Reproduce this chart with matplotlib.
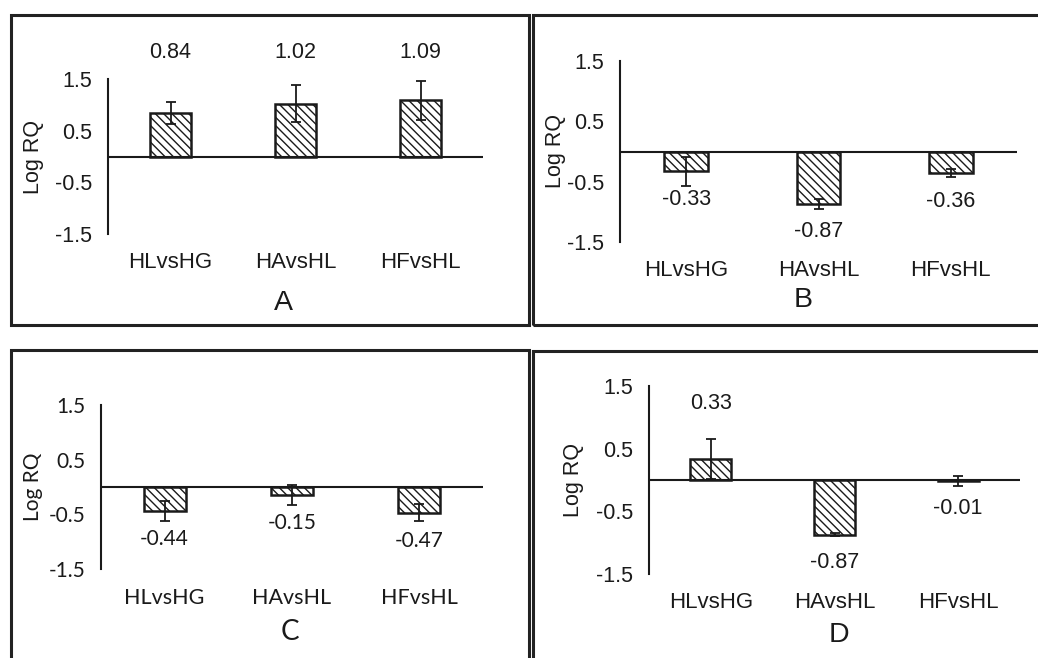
import matplotlib
matplotlib.use("Agg")
import matplotlib.pyplot as plt
from matplotlib.patches import Rectangle

plt.rcParams['hatch.linewidth'] = 1.0

# data
categories = ['HLvsHG', 'HAvsHL', 'HFvsHL']
vals_a = [0.84, 1.02, 1.09]
err_a = [0.21, 0.36, 0.38]
vals_b = [-0.33, -0.87, -0.36]
err_b = [0.24, 0.09, 0.07]
vals_c = [-0.44, -0.15, -0.47]
err_c = [0.18, 0.18, 0.15]
vals_d = [0.33, -0.87, -0.01]
err_d = [0.32, 0.02, 0.08]
yticks = [1.5, 0.5, -0.5, -1.5]
ytick_labels = ['1.5', '0.5', '-0.5', '-1.5']

W, H = 1038, 658
INK = '#1a1a1a'
fig = plt.figure(figsize=(W / 100, H / 100), dpi=100)


def px_axes(x0, x1, ytop, ybot):
    return fig.add_axes([x0 / W, 1 - ybot / H, (x1 - x0) / W, (ybot - ytop) / H])


def frame(x0, y0, x1, y1):
    fig.patches.append(Rectangle((x0 / W, 1 - y1 / H), (x1 - x0) / W, (y1 - y0) / H,
                                 transform=fig.transFigure, fill=False,
                                 edgecolor='#222222', linewidth=2.2))


def panel(box, vals, errs, letter, letter_xy, font, fs, ylab_dx, pos_label=None):
    ax = px_axes(*box)
    x = [0.5, 1.5, 2.5]
    ax.bar(x, vals, width=0.33, color='white', edgecolor=INK, linewidth=1.8,
           hatch='\\\\\\\\')
    ax.errorbar(x, vals, yerr=errs, fmt='none', ecolor=INK, elinewidth=1.3,
                capsize=3.5, capthick=1.3)
    ax.axhline(0, color=INK, linewidth=1.5)
    ax.set_xlim(0, 3)
    ax.set_ylim(-1.5, 1.5)
    for s in ['top', 'right', 'bottom']:
        ax.spines[s].set_visible(False)
    ax.spines['left'].set_linewidth(1.5)
    ax.spines['left'].set_color(INK)
    ax.set_xticks([])
    ax.set_yticks(yticks)
    ax.set_yticklabels(ytick_labels, fontsize=fs + 1, family=font, color=INK)
    ax.tick_params(axis='y', length=0, pad=11.5)
    ax.set_ylabel('Log RQ', fontsize=fs + 1, family=font, color=INK)
    ax.yaxis.label.set_verticalalignment('center')
    width_px = box[1] - box[0]
    ax.yaxis.set_label_coords(-ylab_dx / width_px, 0.5)

    for xi, v in zip(x, vals):
        if v < 0:
            ax.annotate(f'{v:.2f}', (xi, v), xytext=(0, -28), textcoords='offset pixels',
                        ha='center', va='center', fontsize=fs + 1, family=font, color=INK)
        elif pos_label == 'top':
            ax.annotate(f'{v:.2f}', (xi, 1.5), xytext=(0, 26), textcoords='offset pixels',
                        ha='center', va='center', fontsize=fs + 1, family=font, color=INK,
                        annotation_clip=False)
        else:
            ax.annotate(f'{v:.2f}', (xi, v), xytext=(0, 56), textcoords='offset pixels',
                        ha='center', va='center', fontsize=fs + 1, family=font, color=INK)

    for xi, c in zip(x, categories):
        ax.annotate(c, (xi, 0), xycoords=('data', 'axes fraction'), xytext=(0, -29),
                    textcoords='offset pixels', ha='center', va='center',
                    fontsize=fs + 1.5, family=font, color=INK, annotation_clip=False)

    fig.text(letter_xy[0] / W, 1 - letter_xy[1] / H, letter, ha='center', va='center',
             fontsize=fs + 6, family=font, color=INK)
    return ax


arial = ['Liberation Sans', 'DejaVu Sans']
calibri = ['Lato', 'DejaVu Sans']

frame(11, 15, 529, 325)
frame(533, 15, 1045, 325)
frame(11, 350, 529, 670)
frame(533, 351, 1045, 670)

panel((108, 483, 79, 234), vals_a, err_a, 'A', (283, 303), arial, 14.5, 75, pos_label='top')
panel((620, 1017, 61, 242), vals_b, err_b, 'B', (803, 300), arial, 14.5, 65)
panel((101, 483, 405, 569), vals_c, err_c, 'C', (290, 632), calibri, 14, 68)
panel((649, 1020, 386, 574), vals_d, err_d, 'D', (839, 635), arial, 14.5, 76)

fig.savefig('out.png', dpi=100)
